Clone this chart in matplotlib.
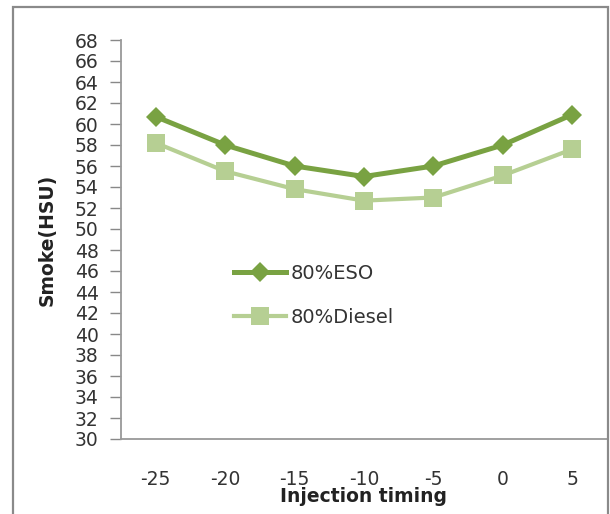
import matplotlib
matplotlib.use("Agg")
import matplotlib.pyplot as plt
from matplotlib.patches import Rectangle

categories = ["-25", "-20", "-15", "-10", "-5", "0", "5"]
eso = [60.7, 58.0, 56.0, 55.0, 56.0, 58.0, 60.9]
diesel = [58.2, 55.5, 53.8, 52.7, 53.0, 55.1, 57.6]
yticks = list(range(30, 69, 2))

plt.rcParams['font.family'] = ['DejaVu Sans']

W, H = 610, 514
fig = plt.figure(figsize=(W / 100, H / 100), dpi=100)
ax = fig.add_axes([121 / W, (H - 439) / H, (607 - 121) / W, (439 - 40) / H])

x = list(range(len(categories)))
ax.plot(x, eso, color='#79A242', lw=3.6, marker='D', ms=10, mew=0, label='80%ESO')
ax.plot(x, diesel, color='#B6CF93', lw=3.0, marker='s', ms=12.5, mew=0, label='80%Diesel')

ax.set_xlim(-0.5, len(categories) - 0.5)
ax.set_ylim(30, 68)
ax.set_xticks(x)
ax.set_xticklabels(categories)
ax.set_yticks(yticks)
ax.tick_params(axis='y', length=8, width=1, color='#888888', pad=8, labelsize=13.5, labelcolor='#333333')
ax.tick_params(axis='x', length=0, pad=22, labelsize=13.5, labelcolor='#333333')
for s in ['top', 'right']:
    ax.spines[s].set_visible(False)
for s in ['left', 'bottom']:
    ax.spines[s].set_color('#999999')
    ax.spines[s].set_linewidth(1.3)

fig.text(364 / W, 1 - 497 / H, 'Injection timing', ha='center', va='center',
         fontsize=13.5, fontweight='bold', color='#222222')
fig.text(47 / W, 1 - 240 / H, 'Smoke(HSU)', ha='center', va='center', rotation=90,
         fontsize=13.5, fontweight='bold', color='#222222')

leg = ax.legend(loc='upper left', bbox_to_anchor=((224 - 121) / (607 - 121), (439 - 254) / 399),
                frameon=False, fontsize=14, handlelength=2.7, labelspacing=1.3,
                handletextpad=0.25, borderpad=0)
for t in leg.get_texts():
    t.set_color('#333333')

fig.patches.append(Rectangle((13 / W, -0.1), (608 - 13) / W, (H - 7) / H + 0.1,
                             transform=fig.transFigure, fill=False,
                             edgecolor='#8A8A8A', lw=1.6))

fig.savefig('out.png', dpi=100)
